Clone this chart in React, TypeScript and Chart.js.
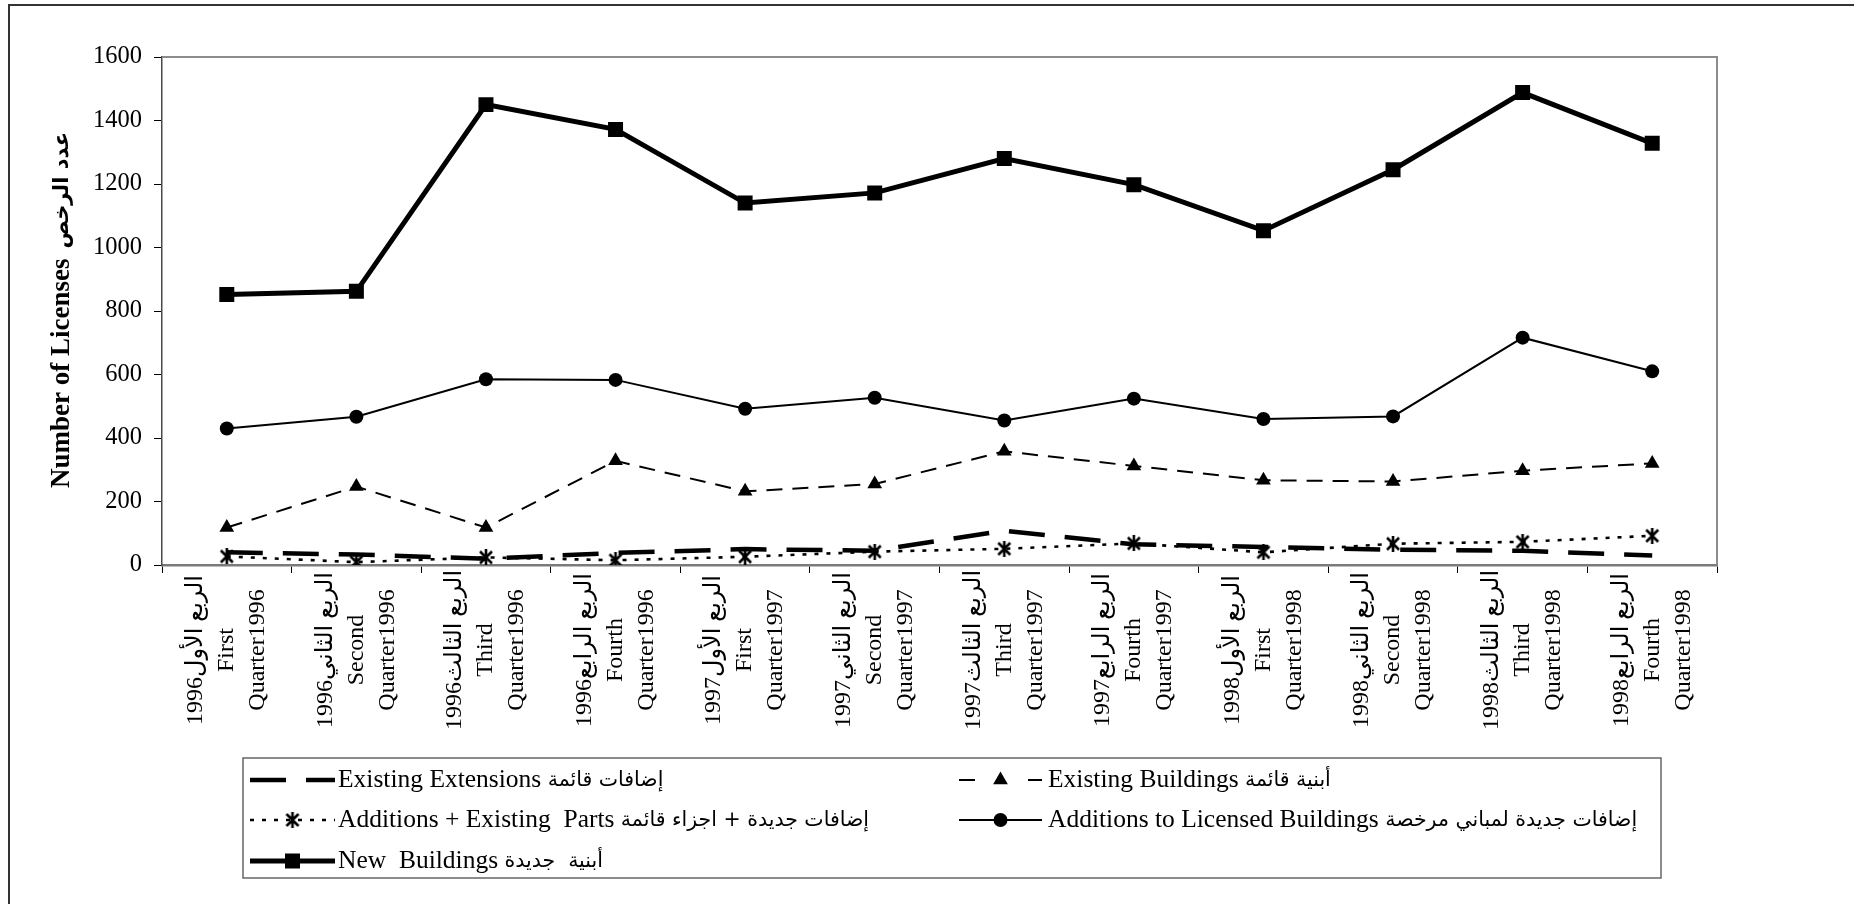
import React, { useEffect, useRef } from "react";
import { Chart, registerables } from "chart.js";

Chart.register(...registerables);

const W = 1854;
const H = 904;

// Category tick labels (three lines each, as in the reference)
const categoryLabels: string[][] = [
  ["1996الربع الأول", "First", "Quarter1996"],
  ["1996الربع الثاني", "Second", "Quarter1996"],
  ["1996الربع الثالث", "Third", "Quarter1996"],
  ["1996الربع الرابع", "Fourth", "Quarter1996"],
  ["1997الربع الأول", "First", "Quarter1997"],
  ["1997الربع الثاني", "Second", "Quarter1997"],
  ["1997الربع الثالث", "Third", "Quarter1997"],
  ["1997الربع الرابع", "Fourth", "Quarter1997"],
  ["1998الربع الأول", "First", "Quarter1998"],
  ["1998الربع الثاني", "Second", "Quarter1998"],
  ["1998الربع الثالث", "Third", "Quarter1998"],
  ["1998الربع الرابع", "Fourth", "Quarter1998"],
];

// Series values
const existingExtensions = [40, 33, 20, 38, 50, 45, 108, 65, 57, 48, 45, 30];
const existingBuildings = [118, 247, 118, 328, 232, 255, 358, 312, 267, 263, 297, 320];
const additionsExistingParts = [27, 9, 24, 15, 26, 42, 51, 68, 40, 67, 73, 92];
const additionsLicensed = [430, 467, 585, 583, 492, 527, 455, 524, 460, 468, 716, 610];
const newBuildings = [852, 862, 1450, 1372, 1140, 1172, 1280, 1198, 1053, 1245, 1488, 1328];

// Y axis
const yMin = 0;
const yMax = 1600;
const yStep = 200;

const yTitleEn = "Number of Licenses";
const yTitleAr = "عدد الرخص";

const legendEn = [
  "Existing Extensions",
  "Existing Buildings",
  "Additions + Existing  Parts",
  "Additions to Licensed Buildings",
  "New  Buildings",
];
const legendAr = [
  "إضافات قائمة",
  "أبنية قائمة",
  "إضافات جديدة + اجزاء قائمة",
  "إضافات جديدة لمباني مرخصة",
  "أبنية  جديدة",
];

const SERIF = "'Liberation Serif', 'Times New Roman', serif";
const ARABIC = "'DejaVu Sans', 'Liberation Serif', sans-serif";

function makeAsterisk(size: number, lw: number): HTMLCanvasElement {
  const c = document.createElement("canvas");
  c.width = size;
  c.height = size;
  const g = c.getContext("2d")!;
  g.strokeStyle = "#000";
  g.lineWidth = lw;
  const m = 2;
  g.beginPath();
  g.moveTo(m, m);
  g.lineTo(size - m, size - m);
  g.moveTo(size - m, m);
  g.lineTo(m, size - m);
  g.moveTo(size / 2, 0);
  g.lineTo(size / 2, size);
  g.stroke();
  return c;
}

type Marker = "none" | "rect" | "circle" | "triangle" | "asterisk";

function drawMarker(ctx: CanvasRenderingContext2D, kind: Marker, x: number, y: number, ast: HTMLCanvasElement) {
  ctx.save();
  ctx.fillStyle = "#000";
  ctx.setLineDash([]);
  if (kind === "rect") {
    ctx.fillRect(x - 7.5, y - 7.5, 15, 15);
  } else if (kind === "circle") {
    ctx.beginPath();
    ctx.arc(x, y, 7, 0, Math.PI * 2);
    ctx.fill();
  } else if (kind === "triangle") {
    const r = 8.5;
    ctx.beginPath();
    for (let k = 0; k < 3; k++) {
      const a = (k * 2 * Math.PI) / 3;
      const px = x + Math.sin(a) * r;
      const py = y - Math.cos(a) * r;
      if (k === 0) ctx.moveTo(px, py);
      else ctx.lineTo(px, py);
    }
    ctx.closePath();
    ctx.fill();
  } else if (kind === "asterisk") {
    ctx.drawImage(ast, x - ast.width / 2, y - ast.height / 2);
  }
  ctx.restore();
}

export default function App() {
  const ref = useRef<HTMLCanvasElement>(null);

  useEffect(() => {
    const canvas = ref.current;
    if (!canvas) return;
    const ast = makeAsterisk(16, 2.6);

    const styles: { width: number; dash: number[]; marker: Marker }[] = [
      { width: 4.5, dash: [36, 20], marker: "none" },
      { width: 2, dash: [16, 10], marker: "triangle" },
      { width: 2.6, dash: [4, 8], marker: "asterisk" },
      { width: 2, dash: [], marker: "circle" },
      { width: 5, dash: [], marker: "rect" },
    ];

    const series = [existingExtensions, existingBuildings, additionsExistingParts, additionsLicensed, newBuildings];
    const pointStyles: any[] = [false, "triangle", ast, "circle", "rect"];
    const pointRadii = [0, 8.5, 8, 7, 10.6];

    const decor = {
      id: "decor",
      beforeDraw(chart: any) {
        const ctx = chart.ctx as CanvasRenderingContext2D;
        ctx.save();
        ctx.fillStyle = "#fff";
        ctx.fillRect(0, 0, chart.width, chart.height);
        ctx.restore();
      },
      beforeDatasetsDraw(chart: any) {
        const ctx = chart.ctx as CanvasRenderingContext2D;
        const a = chart.chartArea;
        ctx.save();
        ctx.strokeStyle = "#8c8c8c";
        ctx.lineWidth = 2;
        ctx.beginPath();
        ctx.moveTo(a.left, a.top);
        ctx.lineTo(a.right, a.top);
        ctx.lineTo(a.right, a.bottom);
        ctx.stroke();
        ctx.restore();
      },
      afterDraw(chart: any) {
        const ctx = chart.ctx as CanvasRenderingContext2D;
        const xs = chart.scales.x;
        ctx.save();
        // outer frame
        ctx.strokeStyle = "#333";
        ctx.lineWidth = 2;
        ctx.beginPath();
        ctx.moveTo(9, H);
        ctx.lineTo(9, 5);
        ctx.lineTo(W, 5);
        ctx.stroke();

        // x category labels, rotated, centered lines
        ctx.fillStyle = "#000";
        ctx.font = `24px ${SERIF}, ${ARABIC}`;
        ctx.textAlign = "center";
        ctx.textBaseline = "middle";
        categoryLabels.forEach((lines, i) => {
          const cx = xs.getPixelForValue(i);
          lines.forEach((line, j) => {
            ctx.save();
            ctx.translate(cx + (j - 1) * 31, 650);
            ctx.rotate(-Math.PI / 2);
            ctx.fillText(line, 0, 0);
            ctx.restore();
          });
        });

        // y title: English + Arabic drawn as two runs
        ctx.save();
        ctx.textAlign = "left";
        ctx.textBaseline = "middle";
        const fEn = `bold 27px ${SERIF}`;
        const fAr = `bold 21px ${ARABIC}`;
        ctx.font = fEn;
        const wEn = ctx.measureText(yTitleEn).width;
        const gap = 10;
        ctx.font = fAr;
        const wAr = ctx.measureText(yTitleAr).width;
        const total = wEn + gap + wAr;
        ctx.translate(62, 310);
        ctx.rotate(-Math.PI / 2);
        ctx.font = fEn;
        ctx.fillText(yTitleEn, -total / 2, 0);
        ctx.font = fAr;
        ctx.fillText(yTitleAr, -total / 2 + wEn + gap, 1);
        ctx.restore();

        // legend
        ctx.strokeStyle = "#666";
        ctx.lineWidth = 1.5;
        ctx.strokeRect(243, 758, 1661 - 243, 878 - 758);
        const pos = [
          { x0: 250, x1: 335, tx: 338, y: 780 },
          { x0: 959, x1: 1042, tx: 1048, y: 780 },
          { x0: 250, x1: 335, tx: 338, y: 820 },
          { x0: 959, x1: 1042, tx: 1048, y: 820 },
          { x0: 250, x1: 335, tx: 338, y: 861 },
        ];
        pos.forEach((p, k) => {
          const st = styles[k];
          ctx.save();
          ctx.strokeStyle = "#000";
          ctx.lineWidth = st.width;
          ctx.lineCap = "butt";
          ctx.setLineDash([]);
          ctx.beginPath();
          if (k === 1) {
            ctx.moveTo(p.x0, p.y);
            ctx.lineTo(p.x0 + 16, p.y);
            ctx.moveTo(p.x1 - 14, p.y);
            ctx.lineTo(p.x1, p.y);
          } else {
            ctx.setLineDash(st.dash);
            ctx.moveTo(p.x0, p.y);
            ctx.lineTo(p.x1, p.y);
          }
          ctx.stroke();
          ctx.restore();
          drawMarker(ctx, st.marker, (p.x0 + p.x1) / 2, p.y, ast);
          ctx.save();
          ctx.fillStyle = "#000";
          ctx.textAlign = "left";
          ctx.textBaseline = "middle";
          ctx.font = `25.5px ${SERIF}`;
          ctx.fillText(legendEn[k], p.tx, p.y);
          const w = ctx.measureText(legendEn[k] + " ").width;
          ctx.font = `20.5px ${ARABIC}`;
          ctx.fillText(legendAr[k], p.tx + w, p.y + 1);
          ctx.restore();
        });
        ctx.restore();
      },
    };

    const chart = new Chart(canvas, {
      type: "line",
      data: {
        labels: categoryLabels.map((l) => l.join(" ")),
        datasets: series.map((data, k) => ({
          label: legendEn[k] + " " + legendAr[k],
          data,
          borderColor: "#000",
          backgroundColor: "#000",
          borderWidth: styles[k].width,
          borderDash: styles[k].dash,
          borderCapStyle: "butt",
          tension: 0,
          fill: false,
          pointStyle: pointStyles[k],
          pointRadius: pointRadii[k],
          pointHoverRadius: pointRadii[k],
          pointBackgroundColor: "#000",
          pointBorderColor: "#000",
          pointBorderWidth: 0,
        })) as any,
      },
      options: {
        responsive: false,
        animation: false,
        devicePixelRatio: 1,
        events: [],
        layout: { padding: { left: 0, top: 57, right: W - 1717, bottom: 0 } },
        plugins: {
          legend: { display: false },
          tooltip: { enabled: false },
          title: { display: false },
        },
        scales: {
          x: {
            type: "category",
            offset: true,
            grid: { offset: true, drawOnChartArea: false, drawTicks: true, tickLength: 8, color: "#000", lineWidth: 1 },
            border: { display: true, color: "#7a7a7a", width: 2.5 },
            ticks: { display: false },
            afterFit: (s: any) => {
              s.height = H - 565;
            },
          },
          y: {
            min: yMin,
            max: yMax,
            ticks: {
              stepSize: yStep,
              color: "#000",
              padding: 12,
              font: { family: SERIF, size: 24.5 },
              callback: (v: any) => String(v),
            },
            grid: { drawOnChartArea: false, drawTicks: true, tickLength: 8, color: "#000", lineWidth: 1 },
            border: { display: true, color: "#4a4a4a", width: 1.5 },
            afterFit: (s: any) => {
              s.width = 162;
            },
          },
        },
      } as any,
      plugins: [decor],
    });

    return () => chart.destroy();
  }, []);

  return (
    <div style={{ position: "fixed", left: 0, top: 0, width: W, height: H, background: "#fff" }}>
      <canvas ref={ref} width={W} height={H} style={{ width: W, height: H, display: "block" }} />
    </div>
  );
}
